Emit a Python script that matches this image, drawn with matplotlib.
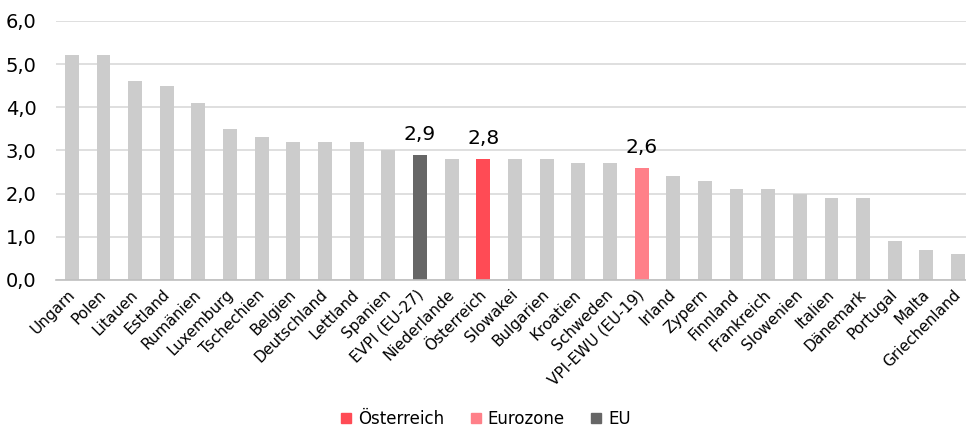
import matplotlib.pyplot as plt
from matplotlib.patches import Patch

countries = ['Ungarn', 'Polen', 'Litauen', 'Estland', 'Rumänien', 'Luxemburg',
             'Tschechien', 'Belgien', 'Deutschland', 'Lettland', 'Spanien',
             'EVPI (EU-27)', 'Niederlande', 'Österreich', 'Slowakei', 'Bulgarien',
             'Kroatien', 'Schweden', 'VPI-EWU (EU-19)', 'Irland', 'Zypern',
             'Finnland', 'Frankreich', 'Slowenien', 'Italien', 'Dänemark',
             'Portugal', 'Malta', 'Griechenland']
values = [5.2, 5.2, 4.6, 4.5, 4.1, 3.5, 3.3, 3.2, 3.2, 3.2, 3.0, 2.9, 2.8, 2.8,
          2.8, 2.8, 2.7, 2.7, 2.6, 2.4, 2.3, 2.1, 2.1, 2.0, 1.9, 1.9, 0.9, 0.7, 0.6]
highlight = {'Österreich': '#FF4B55', 'VPI-EWU (EU-19)': '#FF8089', 'EVPI (EU-27)': '#666666'}
legend_items = [('Österreich', '#FF4B55'), ('Eurozone', '#FF8089'), ('EU', '#666666')]

fig = plt.figure(figsize=(9.66, 4.28), dpi=100)
ax = fig.add_axes([0.058, 0.346, 0.942, 0.605])

colors = [highlight.get(c, '#CCCCCC') for c in countries]
x = range(len(countries))
ax.bar(x, values, width=0.44, color=colors, zorder=2)

# value labels only for the highlighted bars
for i, c in enumerate(countries):
    if c in highlight:
        ax.annotate(f'{values[i]:.1f}'.replace('.', ','), (i, values[i]),
                    xytext=(0, 8), textcoords='offset points', ha='center',
                    va='bottom', fontsize=14.5)

ax.set_xlim(-0.5, 28.25)
ax.set_ylim(0, 6)
ax.set_yticks([0, 1, 2, 3, 4, 5, 6])
ax.set_yticklabels([f'{v},0' for v in range(7)], fontsize=14)
ax.set_xticks(list(x))
ax.set_xticklabels([])
# rotated category labels, nudged a little left so the last one fits
for i, c in enumerate(countries):
    ax.annotate(c, (i, 0), xytext=(-3.5, -5), textcoords='offset points',
                rotation=45, ha='right', va='top', rotation_mode='anchor',
                fontsize=11, annotation_clip=False)
ax.tick_params(axis='x', length=0)
ax.tick_params(axis='y', length=0, pad=14)
ax.yaxis.grid(True, color='#D9D9D9', linewidth=1.2, zorder=0)
ax.set_axisbelow(True)
for s in ['top', 'right', 'left']:
    ax.spines[s].set_visible(False)
ax.spines['bottom'].set_color('#BFBFBF')
ax.spines['bottom'].set_linewidth(1.2)

handles = [Patch(color=col, label=lab) for lab, col in legend_items]
fig.legend(handles=handles, loc='lower center', bbox_to_anchor=(0.503, -0.035), ncol=3,
           frameon=False, fontsize=12, handlelength=0.6, handleheight=0.6,
           columnspacing=1.6, handletextpad=0.4)

fig.savefig('out.png', dpi=100)
